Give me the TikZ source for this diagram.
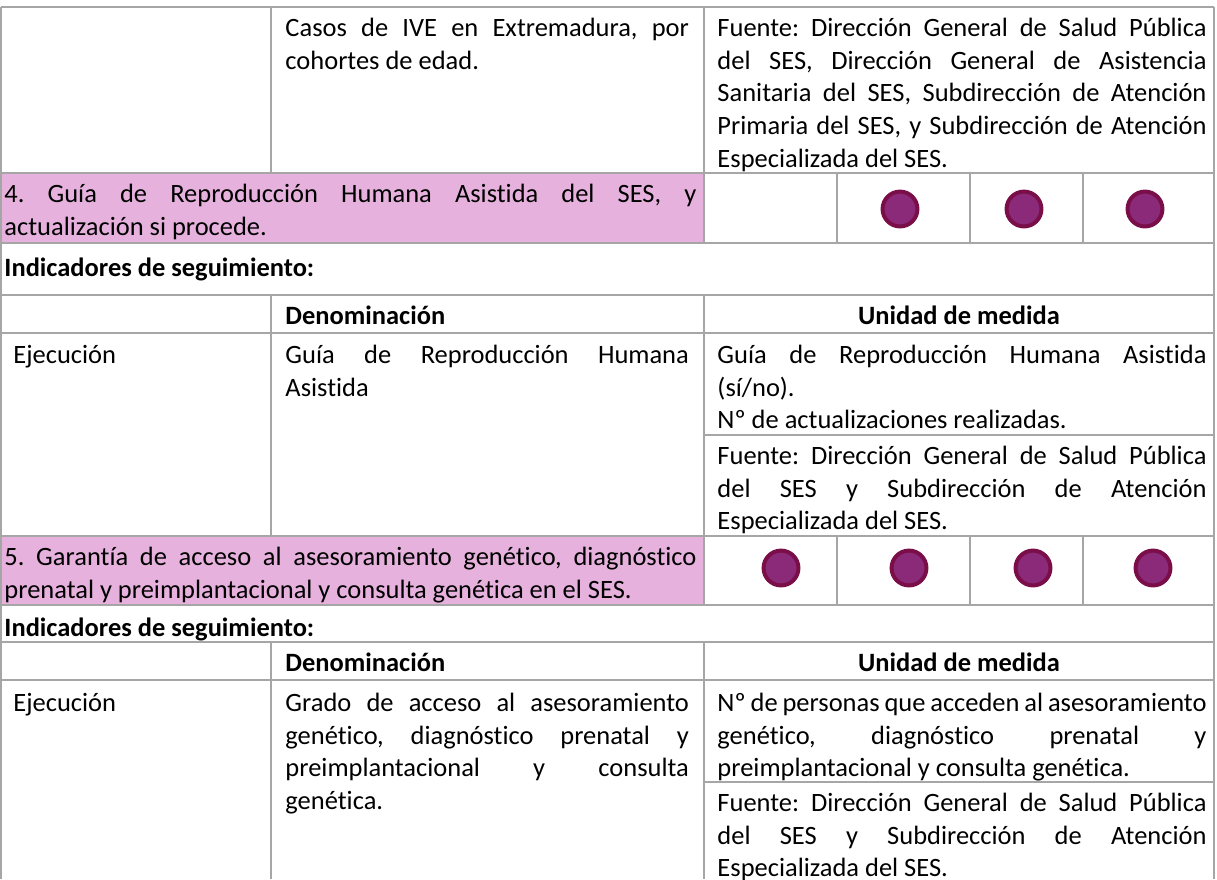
\documentclass[tikz,border=0pt]{standalone}
\usepackage{fontspec}
\setmainfont{Carlito}[Ligatures=NoCommon]
\usetikzlibrary{positioning}

\definecolor{pinkrow}{RGB}{230,177,221}
\definecolor{gridgray}{RGB}{166,166,166}
\definecolor{dotfill}{RGB}{140,42,122}
\definecolor{dotedge}{RGB}{122,14,72}

\hyphenpenalty=10000
\exhyphenpenalty=10000
\tolerance=9999
\frenchspacing

\begin{document}
\begin{tikzpicture}[
    x=0.41pt, y=-0.41pt,
    % Cell styles
    celltext/.style={anchor=north west, inner sep=0pt, align=justify, font=\fontsize{10.85}{13.4}\selectfont\frenchspacing},
    colB/.style={celltext, text width=165.4pt},
    colC/.style={celltext, text width=200.5pt},
    actrow/.style={celltext, text width=283.7pt},
    headtext/.style={anchor=north west, inner sep=0pt, font=\fontsize{10.85}{13.4}\selectfont\bfseries},
    % Grid and markers
    gridline/.style={draw=gridgray, line width=0.8pt},
    pinkcell/.style={fill=pinkrow},
    dot/.style={circle, draw=dotedge, fill=dotfill, line width=1.64pt, inner sep=0pt, minimum size=14.3pt},
]
\useasboundingbox (0,0) rectangle (1217,879);

% === PINK ACTION ROWS ===
\fill[pinkcell] (1,173) rectangle (704,243);
\fill[pinkcell] (1,536) rectangle (704,605);

% === GRID ===
% horizontal rules
\draw[gridline] (1,7) -- (1214,7);
\draw[gridline] (1,173) -- (1214,173);
\draw[gridline] (1,243) -- (1214,243);
\draw[gridline] (1,295) -- (1214,295);
\draw[gridline] (1,333) -- (1214,333);
\draw[gridline] (704,435) -- (1214,435);
\draw[gridline] (1,536) -- (1214,536);
\draw[gridline] (1,605) -- (1214,605);
\draw[gridline] (1,642) -- (1214,642);
\draw[gridline] (1,680) -- (1214,680);
\draw[gridline] (704,782) -- (1214,782);
% outer borders
\draw[gridline] (1,7) -- (1,879);
\draw[gridline] (1214,7) -- (1214,879);
% column rules
\draw[gridline] (271,7) -- (271,173);
\draw[gridline] (271,295) -- (271,536);
\draw[gridline] (271,642) -- (271,879);
\draw[gridline] (704,7) -- (704,243);
\draw[gridline] (704,295) -- (704,605);
\draw[gridline] (704,642) -- (704,879);
% year columns
\draw[gridline] (837,173) -- (837,243);
\draw[gridline] (970,173) -- (970,243);
\draw[gridline] (1083,173) -- (1083,243);
\draw[gridline] (837,536) -- (837,605);
\draw[gridline] (970,536) -- (970,605);
\draw[gridline] (1083,536) -- (1083,605);

% === ROW 3 (end) ===
\node[colB] (casos) at (285,13) {\strut Casos de IVE en Extremadura, por\linebreak cohortes de edad.};
\node[colC] (fuente3) at (717,13) {\strut Fuente: Dirección General de Salud Pública\linebreak del SES, Dirección General de Asistencia\linebreak Sanitaria del SES, Subdirección de Atención\linebreak Primaria del SES, y Subdirección de Atención\linebreak Especializada del SES.};

% === ACTION 4 ===
\node[actrow] (act4) at (4,179) {\strut 4. Guía de Reproducción Humana Asistida del SES, y\linebreak actualización si procede.};
\node[dot] (dot4b) at (900,209) {};
\node[dot] (dot4c) at (1024,209) {};
\node[dot] (dot4d) at (1145,209) {};

\node[headtext] (ind4) at (4,253) {\strut Indicadores de seguimiento:};
\node[headtext] (den4) at (285,301) {\strut Denominación};
\node[headtext, anchor=north] (uni4) at (959,301) {\strut Unidad de medida};

\node[celltext] (eje4) at (13,340) {\strut Ejecución};
\node[colB] (name4) at (285,340) {\strut Guía de Reproducción Humana\linebreak Asistida};
\node[colC] (unit4) at (717,340) {\strut Guía de Reproducción Humana Asistida\linebreak (sí/no).\\ Nº de actualizaciones realizadas.};
\node[colC] (fuente4) at (717,441) {\strut Fuente: Dirección General de Salud Pública\linebreak del SES y Subdirección de Atención\linebreak Especializada del SES.};

% === ACTION 5 ===
\node[actrow] (act5) at (4,542) {\strut 5. Garantía de acceso al asesoramiento genético, diagnóstico\linebreak prenatal y preimplantacional y consulta genética en el SES.};
\node[dot] (dot5a) at (781,568) {};
\node[dot] (dot5b) at (909,568) {};
\node[dot] (dot5c) at (1033,568) {};
\node[dot] (dot5d) at (1153,568) {};

\node[headtext] (ind5) at (4,613) {\strut Indicadores de seguimiento:};
\node[headtext] (den5) at (285,648) {\strut Denominación};
\node[headtext, anchor=north] (uni5) at (959,648) {\strut Unidad de medida};

\node[celltext] (eje5) at (13,688) {\strut Ejecución};
\node[colB] (name5) at (285,688) {\strut Grado de acceso al asesoramiento\linebreak genético, diagnóstico prenatal y\linebreak preimplantacional y consulta\linebreak genética.};
\node[colC] (unit5) at (717,688) {\strut Nº de personas que acceden al asesoramiento\linebreak genético, diagnóstico prenatal y\linebreak preimplantacional y consulta genética.};
\node[colC] (fuente5) at (717,788) {\strut Fuente: Dirección General de Salud Pública\linebreak del SES y Subdirección de Atención\linebreak Especializada del SES.};

\end{tikzpicture}
\end{document}
